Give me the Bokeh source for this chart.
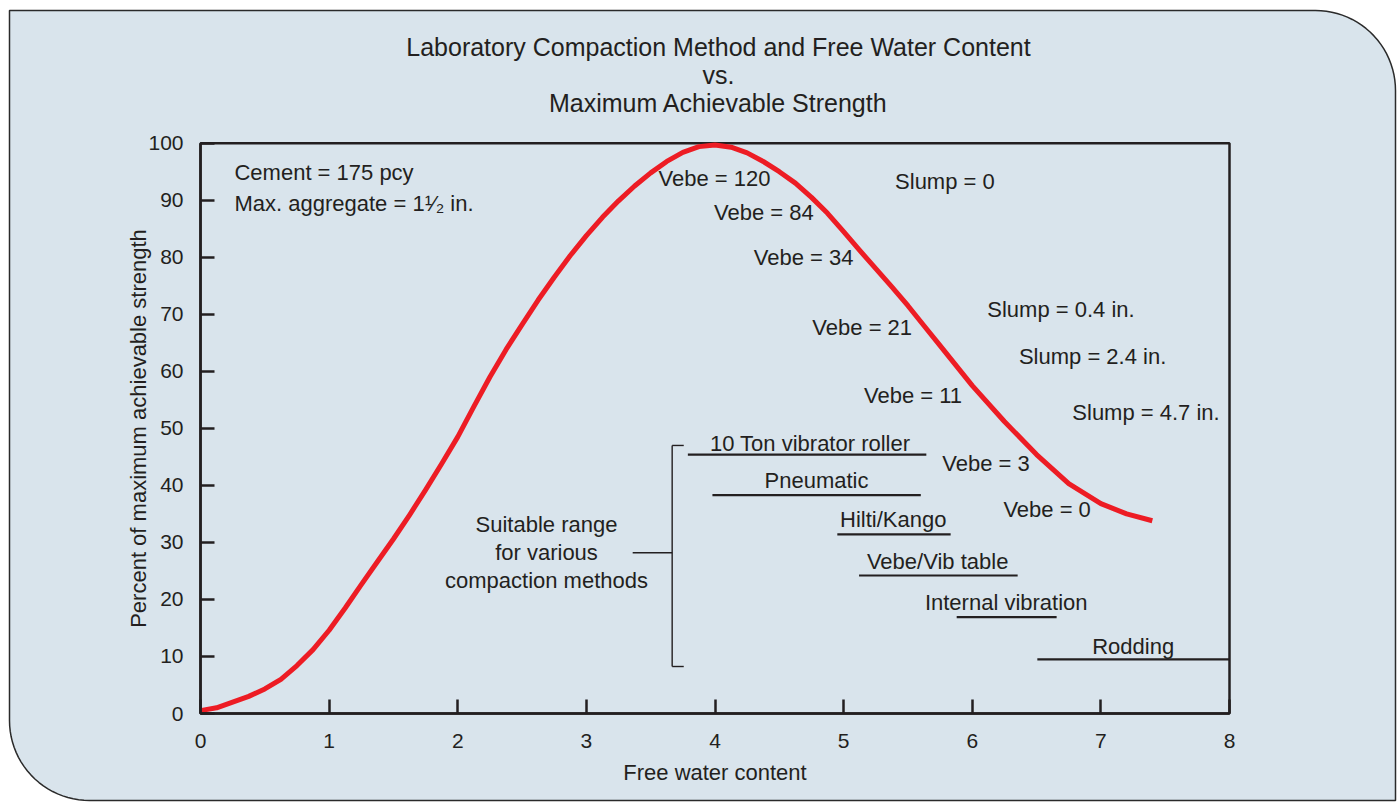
import numpy as np
from bokeh.plotting import figure
from bokeh.models import ColumnDataSource, Range1d, FixedTicker, PolyAnnotation, BoxAnnotation
from bokeh.core.properties import value
from bokeh.embed import file_html
from bokeh.resources import INLINE

# ---------------- data ----------------
water = [0.0, 0.125, 0.25, 0.375, 0.5, 0.625, 0.75, 0.875, 1.0, 1.125, 1.25, 1.375, 1.5,
         1.625, 1.75, 1.875, 2.0, 2.125, 2.25, 2.375, 2.5, 2.625, 2.75, 2.875, 3.0,
         3.125, 3.25, 3.375, 3.5, 3.625, 3.75, 3.875, 4.0, 4.125, 4.25, 4.375, 4.5,
         4.625, 4.75, 4.875, 5.0, 5.125, 5.25, 5.375, 5.5, 5.625, 5.75, 5.875, 6.0,
         6.25, 6.5, 6.75, 7.0, 7.2, 7.4]
strength = [0.5, 1.0, 2.0, 3.0, 4.3, 6.0, 8.4, 11.2, 14.6, 18.5, 22.6, 26.6, 30.6,
            34.8, 39.2, 43.8, 48.5, 53.8, 59.0, 63.8, 68.2, 72.5, 76.5, 80.3, 83.8,
            87.0, 89.9, 92.5, 94.8, 96.8, 98.4, 99.4, 99.7, 99.3, 98.3, 96.8, 95.0,
            93.0, 90.5, 87.7, 84.5, 81.2, 78.0, 74.8, 71.5, 68.0, 64.5, 61.0, 57.5,
            51.2, 45.4, 40.3, 36.8, 35.0, 33.8]

x_ticks = [0, 1, 2, 3, 4, 5, 6, 7, 8]
y_ticks = [0, 10, 20, 30, 40, 50, 60, 70, 80, 90, 100]

title_lines = ["Laboratory Compaction Method and Free Water Content", "vs.",
               "Maximum Achievable Strength"]
title_x = [4.027, 4.027, 4.027]
title_y = [116.8, 111.9, 107.0]

note_text = ["Cement = 175 pcy", "Max. aggregate = 1\u00b9\u2044\u2082 in."]
note_x = [0.264, 0.264]
note_y = [94.9, 89.5]

vebe_text = ["Vebe = 120", "Vebe = 84", "Vebe = 34", "Vebe = 21", "Vebe = 11", "Vebe = 3", "Vebe = 0"]
vebe_x = [3.561, 3.992, 4.302, 4.757, 5.158, 5.767, 6.242]
vebe_y = [93.8, 87.9, 80.0, 67.7, 55.8, 43.8, 35.7]

slump_text = ["Slump = 0", "Slump = 0.4 in.", "Slump = 2.4 in.", "Slump = 4.7 in."]
slump_x = [5.40, 6.117, 6.363, 6.778]
slump_y = [93.2, 70.8, 62.6, 52.8]

methods = ["10 Ton vibrator roller", "Pneumatic", "Hilti/Kango", "Vebe/Vib table",
           "Internal vibration", "Rodding"]
method_start = [3.789, 3.98, 4.951, 5.120, 5.879, 6.506]
method_end = [5.643, 5.60, 5.832, 6.353, 6.656, 8.0]
method_level = [45.4, 38.3, 31.4, 24.2, 16.9, 9.5]
method_label_x = [4.74, 4.789, 5.386, 5.731, 6.264, 7.251]
method_label_y = [47.3, 40.8, 34.0, 26.7, 19.55, 11.8]

bracket_x0 = [3.667, 3.667, 3.667, 3.36]
bracket_x1 = [3.667, 3.757, 3.757, 3.667]
bracket_y0 = [47.0, 47.0, 8.24, 28.2]
bracket_y1 = [8.24, 47.0, 8.24, 28.2]

range_text = ["Suitable range", "for various", "compaction methods"]
range_x = [2.69, 2.69, 2.69]
range_y = [33.1, 28.2, 23.3]

# ---------------- styles / geometry ----------------
INK = "#231f20"
PANEL = "#d9e4ec"
RED = "#ed1c24"
FONT = "Liberation Sans"
FS = "22px"
W, H = 1398, 802
# pixel placement of the plot box inside the canvas
BOX_L, BOX_R, BOX_T, BOX_B = 200.0, 1229.0, 142.7, 713.0
SX = (BOX_R - BOX_L) / (x_ticks[-1] - x_ticks[0])
SY = (BOX_B - BOX_T) / (y_ticks[-1] - y_ticks[0])
x_start = x_ticks[0] - BOX_L / SX
x_end = x_ticks[0] + (W - BOX_L) / SX
y_start = y_ticks[0] - (H - BOX_B) / SY
y_end = y_ticks[0] + BOX_B / SY

def to_x(px):
    return x_ticks[0] + (np.asarray(px, dtype=float) - BOX_L) / SX

def to_y(py):
    return y_ticks[0] + (BOX_B - np.asarray(py, dtype=float)) / SY

p = figure(width=W, height=H, output_backend="svg", toolbar_location=None,
           x_range=Range1d(x_start, x_end), y_range=Range1d(y_start, y_end), title=None,
           min_border=0, min_border_left=0, min_border_right=0, min_border_top=0,
           min_border_bottom=0)
p.border_fill_color = "white"
p.background_fill_color = "white"
p.outline_line_color = None
p.grid.visible = False

# rounded panel (top-right and bottom-left corners rounded)
L, T, R, B, RAD = 9, 10, 1395, 800, 80
a1 = np.linspace(-np.pi / 2, 0, 24)
a2 = np.linspace(np.pi / 2, np.pi, 24)
px = [L] + list(R - RAD + RAD * np.cos(a1)) + [R] + list(L + RAD + RAD * np.cos(a2)) + [L]
py = [T] + list(T + RAD + RAD * np.sin(a1)) + [B] + list(B - RAD + RAD * np.sin(a2)) + [T]
p.add_layout(PolyAnnotation(xs=list(to_x(px)), ys=list(to_y(py)),
                            fill_color=PANEL, fill_alpha=1.0,
                            line_color="#2a2a2a", line_alpha=1.0, line_width=1.5,
                            level="underlay"))

# plot box outline
p.add_layout(BoxAnnotation(left=x_ticks[0], right=x_ticks[-1], bottom=y_ticks[0], top=y_ticks[-1],
                           fill_alpha=0, line_color=INK, line_alpha=1.0, line_width=2.5,
                           level="underlay"))

for ax in (p.xaxis[0], p.yaxis[0]):
    ax.fixed_location = 0
    ax.axis_line_color = INK
    ax.axis_line_width = 2.5
    ax.major_tick_line_color = INK
    ax.major_tick_line_width = 2.5
    ax.major_tick_in = 14
    ax.major_tick_out = 0
    ax.minor_tick_line_color = None
    ax.major_label_text_font = FONT
    ax.major_label_text_font_size = "21px"
    ax.major_label_text_color = INK
    ax.axis_label_text_font = FONT
    ax.axis_label_text_font_size = FS
    ax.axis_label_text_font_style = "normal"
    ax.axis_label_text_color = INK

p.xaxis.bounds = (x_ticks[0], x_ticks[-1])
p.yaxis.bounds = (y_ticks[0], y_ticks[-1])
p.xaxis.ticker = FixedTicker(ticks=x_ticks)
p.yaxis.ticker = FixedTicker(ticks=y_ticks)
p.xaxis.axis_label = "Free water content"
p.yaxis.axis_label = "Percent of maximum achievable strength"
p.xaxis.major_label_standoff = 20
p.yaxis.major_label_standoff = 17
p.xaxis.axis_label_standoff = 9
p.yaxis.axis_label_standoff = -6

# curve
p.line(water, strength, line_color=RED, line_width=5, line_join="round")

# method lines and bracket
p.segment(x0=method_start, x1=method_end, y0=method_level, y1=method_level,
          line_color=INK, line_width=2.2)
p.segment(x0=bracket_x0, x1=bracket_x1, y0=bracket_y0, y1=bracket_y1,
          line_color=INK, line_width=1.4)

def add_text(xs, ys, texts, align, size=FS):
    src = ColumnDataSource(dict(x=xs, y=ys, t=texts))
    p.text(x="x", y="y", text="t", source=src, text_align=align, text_baseline="middle",
           text_font=value(FONT), text_font_size=size, text_color=INK)

add_text(title_x, title_y, title_lines, "center", "25px")
add_text(note_x, note_y, note_text, "left")
add_text(vebe_x, vebe_y, vebe_text, "left")
add_text(slump_x, slump_y, slump_text, "left")
add_text(method_label_x, method_label_y, methods, "center")
add_text(range_x, range_y, range_text, "center")

open("out.html", "w").write(file_html(p, INLINE))
